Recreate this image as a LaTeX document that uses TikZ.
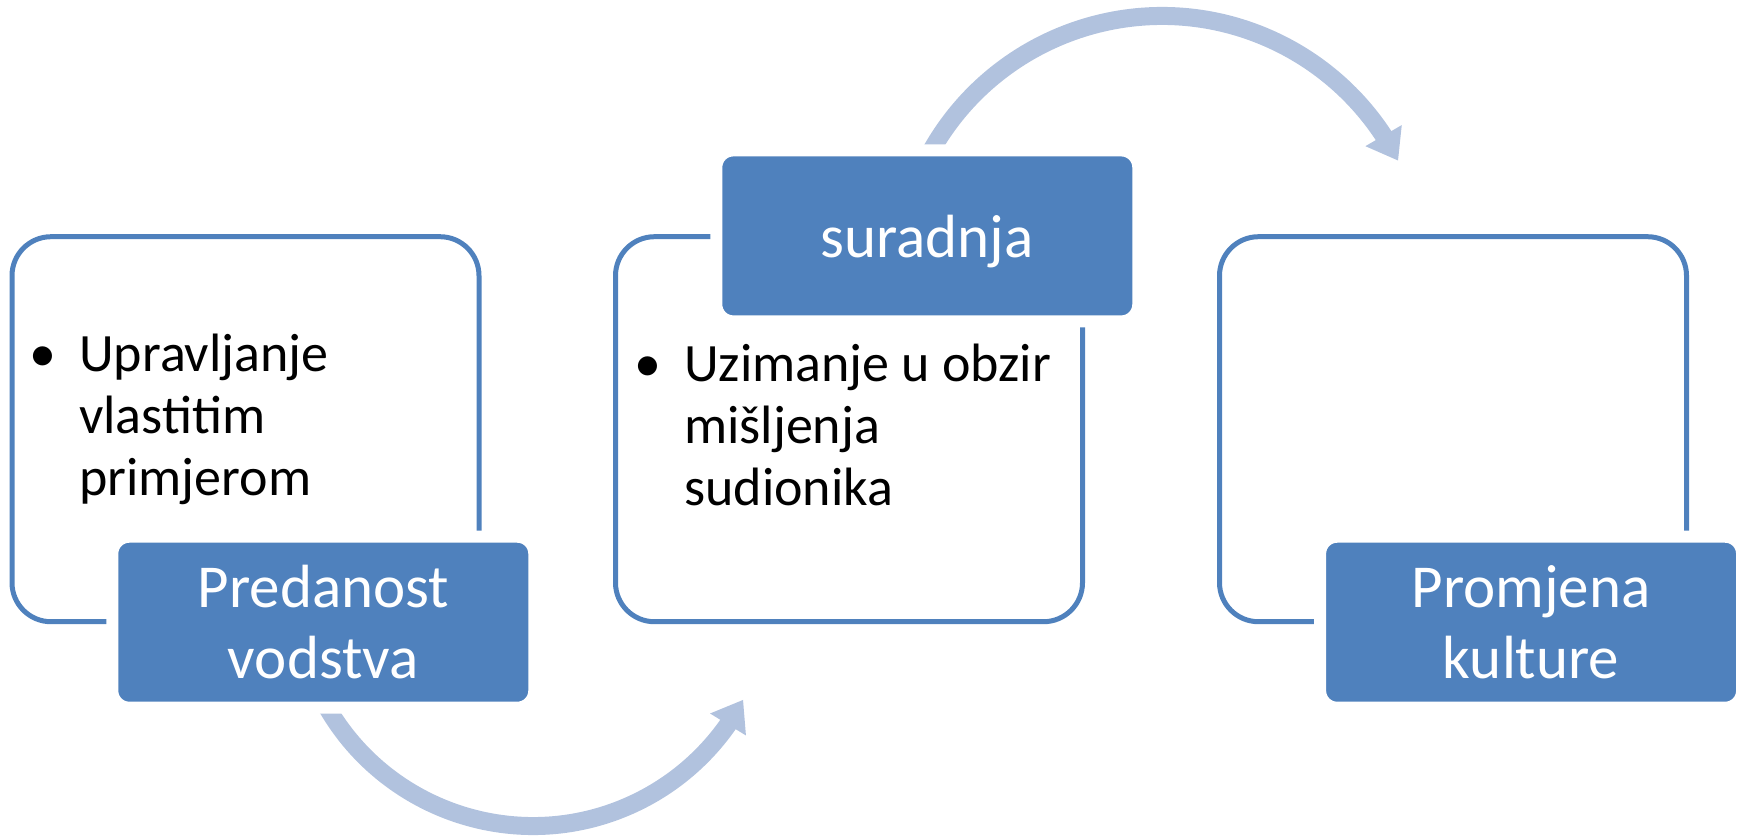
\documentclass[tikz,border=0pt]{standalone}
\usepackage{fontspec}
\setmainfont{Carlito}
\usetikzlibrary{arrows.meta, bending}
\definecolor{boxblue}{RGB}{79,129,189}
\definecolor{arrowblue}{RGB}{177,194,222}

\tikzset{
  framebox/.style={draw=boxblue, line width=5pt, rounded corners=39pt,
    minimum width=467pt, minimum height=385pt, inner sep=0pt},
  labelbox/.style={fill=boxblue, draw=white, line width=12pt, rounded corners=17pt,
    minimum width=422pt, minimum height=171pt, inner sep=0pt,
    text=white, align=center, font=\fontsize{61}{71}\selectfont},
  bodytext/.style={anchor=base west, align=left, inner sep=0pt,
    font=\fontsize{54}{62}\selectfont},
  bigarrow/.style={draw=arrowblue, line width=18pt,
    -{Triangle[width=40pt,length=29pt]}}
}

\begin{document}
\begin{tikzpicture}[x=1pt, y=1pt]

\useasboundingbox (0,0) rectangle (1743,-836);

% centres of the two curved arrows
\coordinate (turn1) at (533,-588);
\coordinate (turn2) at (1162,-281);

\draw[bigarrow] (turn1) ++(205:238) arc[start angle=205, end angle=332, radius=238];
\draw[bigarrow] (turn2) ++(155:265) arc[start angle=155, end angle=27, radius=265];

\node[framebox] (frame1) at (245.5,-429.2) {};
\node[framebox] (frame2) at (849,-429.2) {};
\node[framebox] (frame3) at (1453,-429.2) {};

\node[labelbox] (lead) at (323.3,-622.2) {Predanost\\vodstva};
\node[labelbox, text depth=0pt] (coop) at (927.3,-235.9) {suradnja};
\node[labelbox] (culture) at (1531.1,-622.2) {Promjena\\kulture};

% base = last line of the bullet text
\node[bodytext] (item1) at (79,-495) {\llap{\makebox[72pt]{\textbullet}}Upravljanje\\vlastitim\\primjerom};
\node[bodytext] (item2) at (684,-505) {\llap{\makebox[72pt]{\textbullet}}Uzimanje u obzir\\mišljenja\\sudionika};

\end{tikzpicture}
\end{document}
